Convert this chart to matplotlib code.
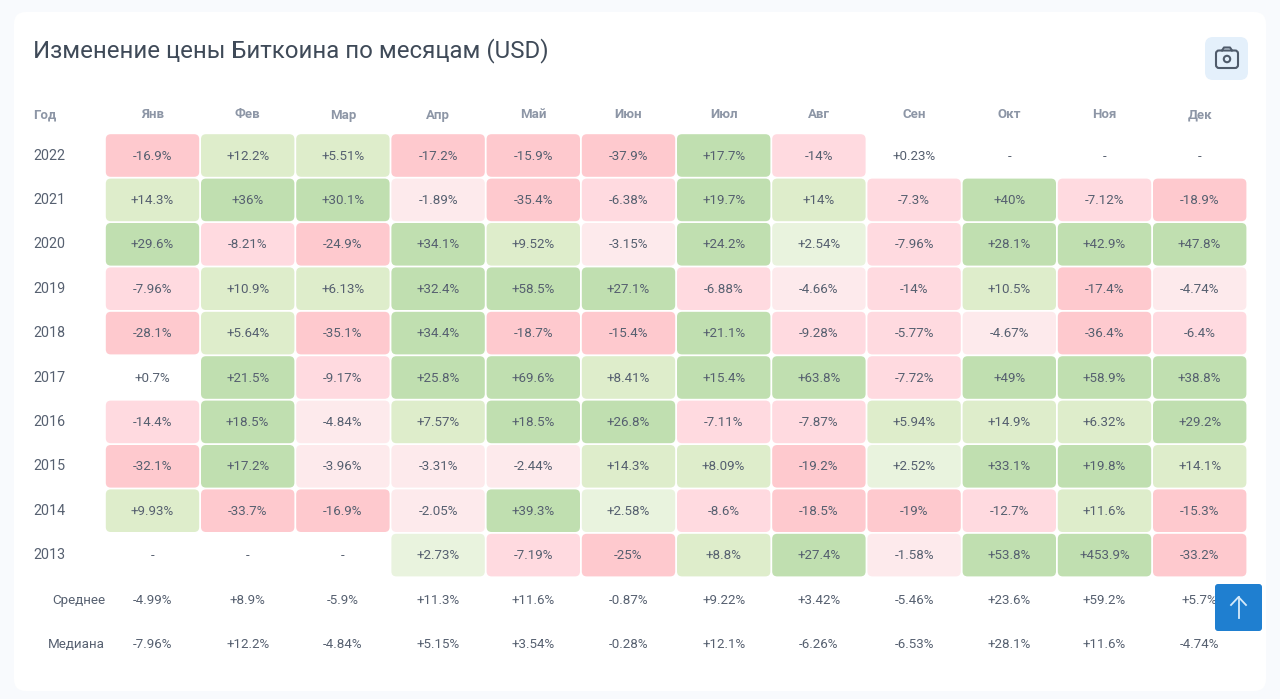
import matplotlib
matplotlib.use("Agg")
import matplotlib.pyplot as plt
from matplotlib.patches import FancyBboxPatch, Circle

plt.rcParams["font.family"] = ["Roboto", "DejaVu Sans"]

months = ["Янв", "Фев", "Мар", "Апр", "Май", "Июн", "Июл", "Авг", "Сен", "Окт", "Ноя", "Дек"]
years = ["2022", "2021", "2020", "2019", "2018", "2017", "2016", "2015", "2014", "2013"]
summary_names = ["Среднее", "Медиана"]

y2022 = ["-16.9", "+12.2", "+5.51", "-17.2", "-15.9", "-37.9", "+17.7", "-14", "+0.23", None, None, None]
y2021 = ["+14.3", "+36", "+30.1", "-1.89", "-35.4", "-6.38", "+19.7", "+14", "-7.3", "+40", "-7.12", "-18.9"]
y2020 = ["+29.6", "-8.21", "-24.9", "+34.1", "+9.52", "-3.15", "+24.2", "+2.54", "-7.96", "+28.1", "+42.9", "+47.8"]
y2019 = ["-7.96", "+10.9", "+6.13", "+32.4", "+58.5", "+27.1", "-6.88", "-4.66", "-14", "+10.5", "-17.4", "-4.74"]
y2018 = ["-28.1", "+5.64", "-35.1", "+34.4", "-18.7", "-15.4", "+21.1", "-9.28", "-5.77", "-4.67", "-36.4", "-6.4"]
y2017 = ["+0.7", "+21.5", "-9.17", "+25.8", "+69.6", "+8.41", "+15.4", "+63.8", "-7.72", "+49", "+58.9", "+38.8"]
y2016 = ["-14.4", "+18.5", "-4.84", "+7.57", "+18.5", "+26.8", "-7.11", "-7.87", "+5.94", "+14.9", "+6.32", "+29.2"]
y2015 = ["-32.1", "+17.2", "-3.96", "-3.31", "-2.44", "+14.3", "+8.09", "-19.2", "+2.52", "+33.1", "+19.8", "+14.1"]
y2014 = ["+9.93", "-33.7", "-16.9", "-2.05", "+39.3", "+2.58", "-8.6", "-18.5", "-19", "-12.7", "+11.6", "-15.3"]
y2013 = [None, None, None, "+2.73", "-7.19", "-25", "+8.8", "+27.4", "-1.58", "+53.8", "+453.9", "-33.2"]
table = [y2022, y2021, y2020, y2019, y2018, y2017, y2016, y2015, y2014, y2013]

mean_row = ["-4.99", "+8.9", "-5.9", "+11.3", "+11.6", "-0.87", "+9.22", "+3.42", "-5.46", "+23.6", "+59.2", "+5.7"]
median_row = ["-7.96", "+12.2", "-4.84", "+5.15", "+3.54", "-0.28", "+12.1", "-6.26", "-6.53", "+28.1", "+11.6", "-4.74"]


def cell_color(val):
    v = float(val)
    if abs(v) < 1:
        return None
    if v > 0:
        return "#e9f3de" if v < 5 else "#deedcb" if v < 15 else "#c0dfb0"
    return "#fdeaec" if v > -5 else "#ffdae0" if v > -15 else "#fec9ce"


def rbox(ax, x0, y0, x1, y1, r, color, z=1):
    ax.add_patch(FancyBboxPatch((x0 + r, y0 + r), x1 - x0 - 2 * r, y1 - y0 - 2 * r,
                                boxstyle=f"round,pad={r},rounding_size={r}",
                                fc=color, ec="none", zorder=z))


fig = plt.figure(figsize=(12.8, 6.99), dpi=100, facecolor="#f8fafd")
ax = fig.add_axes([0, 0, 1, 1])
ax.set_xlim(0, 1280)
ax.set_ylim(699, 0)
ax.axis("off")

# card
rbox(ax, 14, 12, 1266, 691, 12, "white", z=0)

ax.text(33, 57, "Изменение цены Биткоина по месяцам (USD)", fontsize=17.3,
        color="#3f4a58", va="baseline", ha="left")

col_x = 152.5
col_w = 95.2
row_y = 155.5
row_h = 44.4
text_col = "#566070"
head_col = "#8d96a6"

ax.text(33, 118.5, "Год", fontsize=9.5, fontweight="bold", color=head_col, va="baseline")
for i, m in enumerate(months):
    ax.text(col_x + i * col_w, 118.5, m, fontsize=9.5, fontweight="bold", color=head_col,
            ha="center", va="baseline")

for r, (year, row) in enumerate(zip(years, table)):
    yc = row_y + r * row_h
    ax.text(33, yc + 4.2, year, fontsize=10.3, color=text_col, va="baseline")
    for c, val in enumerate(row):
        xc = col_x + c * col_w
        if val is None:
            ax.text(xc, yc + 4.2, "-", fontsize=9.5, color=text_col, ha="center", va="baseline")
            continue
        color = cell_color(val)
        if color:
            rbox(ax, xc - 46.7, yc - 21.3, xc + 46.7, yc + 21.3, 5, color)
        ax.text(xc, yc + 4.2, val + "%", fontsize=9.6, color=text_col, ha="center", va="baseline", zorder=3)

for r, (name, row) in enumerate(zip(summary_names, [mean_row, median_row])):
    yc = row_y + (len(years) + r) * row_h
    ax.text(105, yc + 4.2, name, fontsize=9.6, color=text_col, ha="right", va="baseline")
    for c, val in enumerate(row):
        ax.text(col_x + c * col_w, yc + 4.2, val + "%", fontsize=9.6, color=text_col,
                ha="center", va="baseline", zorder=3)

# camera button
rbox(ax, 1205, 37, 1248, 80, 8, "#e4f0fb", z=2)
ax.add_patch(FancyBboxPatch((1218, 52.5), 18, 13.5, boxstyle="round,pad=2,rounding_size=3",
                            fc="none", ec="#4f5b6b", lw=1.5, zorder=3))
ax.plot([1222, 1224, 1230, 1232], [50.5, 47.5, 47.5, 50.5], color="#4f5b6b", lw=1.5, zorder=3)
ax.add_patch(Circle((1227, 59), 3.2, fc="none", ec="#4f5b6b", lw=1.5, zorder=3))

# scroll-to-top button
rbox(ax, 1215, 584, 1262, 631, 3, "#1f7fd0", z=5)
ax.plot([1238.5, 1238.5], [597, 618], color="#d5eafa", lw=1.3, zorder=6)
ax.plot([1231, 1238.5, 1246], [605, 597, 605], color="#d5eafa", lw=1.3, zorder=6)

fig.savefig("out.png", dpi=100, facecolor=fig.get_facecolor())
